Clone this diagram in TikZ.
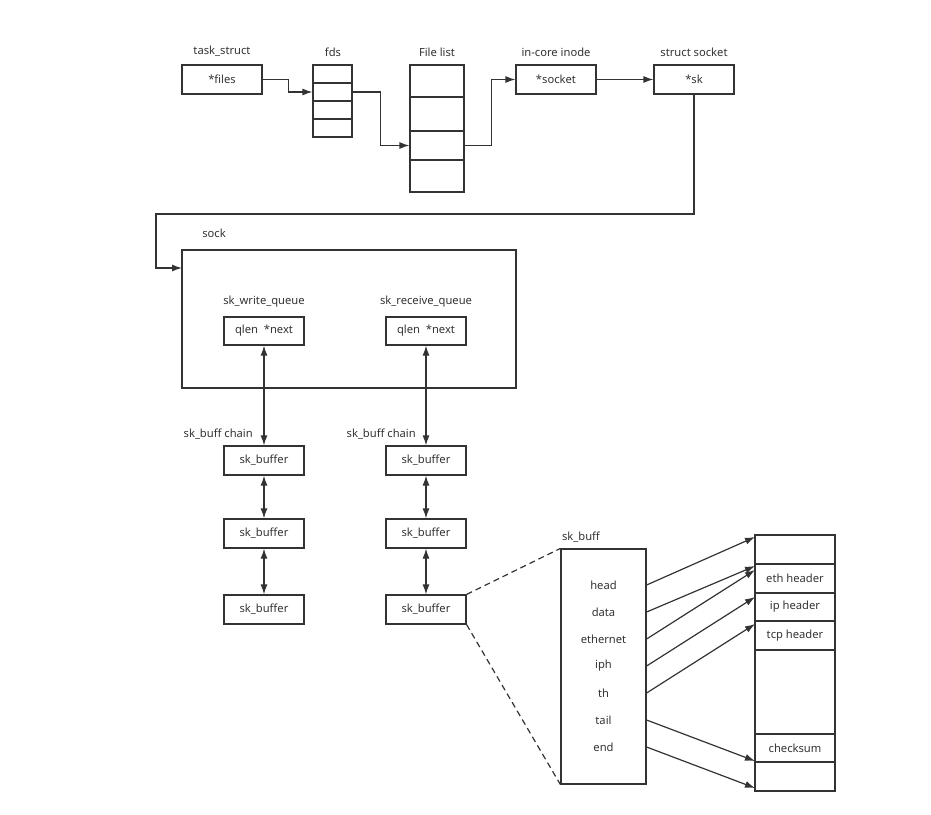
\documentclass[tikz,border=0pt]{standalone}
\usepackage{fontspec}
\setmainfont{Noto Sans}
\usetikzlibrary{arrows.meta}
\definecolor{ink}{HTML}{333333}
\begin{document}
\begin{tikzpicture}[x=1pt,y=-1pt,
  every node/.style={font=\fontsize{11.2}{13}\selectfont, text=ink},
  cell/.style={draw=ink, line width=1.2pt, inner sep=0pt, minimum width=#1},
  cell/.default=80pt,
  lbl/.style={inner sep=0pt},
  arr/.style={draw=ink, line width=1.2pt, -{Latex[length=10pt,width=7pt]}},
  darr/.style={draw=ink, line width=1.2pt, {Latex[length=10pt,width=7pt]}-{Latex[length=10pt,width=7pt]}},
  dsh/.style={draw=ink, line width=1.2pt, dash pattern=on 6pt off 4pt}]
\useasboundingbox (0,0) rectangle (931,814);
% top row
\node[cell, minimum height=29pt] (files) at (222,79.5) {*files};
\node[lbl] (tasklbl) at (222,51) {task\_struct};
\node[cell=39pt, minimum height=18pt] (fds1) at (332.5,74) {};
\node[cell=39pt, minimum height=18pt] (fds2) at (332.5,92) {};
\node[cell=39pt, minimum height=18pt] (fds3) at (332.5,110) {};
\node[cell=39pt, minimum height=18pt] (fds4) at (332.5,128) {};
\node[lbl] (fdslbl) at (333,52) {fds};
\node[cell=54pt, minimum height=32pt] (fl1) at (437,81) {};
\node[cell=54pt, minimum height=34pt] (fl2) at (437,114) {};
\node[cell=54pt, minimum height=29pt] (fl3) at (437,145.5) {};
\node[cell=54pt, minimum height=32pt] (fl4) at (437,176) {};
\node[lbl] (fllbl) at (437,52) {File list};
\node[cell, minimum height=29pt] (inode) at (556,79.5) {*socket};
\node[lbl] (inodelbl) at (556,52) {in-core inode};
\node[cell, minimum height=29pt] (sockt) at (694,79.5) {*sk};
\node[lbl] (socktlbl) at (694,52) {struct socket};
\draw[arr] (files.east) -- ++(26,0) |- (fds2.west);
\draw[arr] (fds2.east) -- ++(28,0) |- (fl3.west);
\draw[arr] (fl3.east) -- ++(27,0) |- (inode.west);
\draw[arr] (inode.east) -- (sockt.west);
% sock
\node[cell=334pt, minimum height=138pt] (sock) at (349,319) {};
\node[lbl] (socklbl) at (214,233) {sock};
\coordinate (sockin) at (182,268);
\coordinate (bend) at (156,214);
\draw[arr] (sockt.south) |- (bend) |- (sockin);
\node[lbl] (wqlbl) at (264,302) {sk\_write\_queue};
\node[cell, minimum height=28pt] (wq) at (264,331) {qlen~~*next};
\node[lbl] (rqlbl) at (426,302) {sk\_receive\_queue};
\node[cell, minimum height=28pt] (rq) at (426,331) {qlen~~*next};
% chains
\node[cell, minimum height=29pt] (lb1) at (264,460.5) {sk\_buffer};
\node[cell, minimum height=29pt] (lb2) at (264,533.5) {sk\_buffer};
\node[cell, minimum height=29pt] (lb3) at (264,609.5) {sk\_buffer};
\node[cell, minimum height=29pt] (rb1) at (426,460.5) {sk\_buffer};
\node[cell, minimum height=29pt] (rb2) at (426,533.5) {sk\_buffer};
\node[cell, minimum height=29pt] (rb3) at (426,609.5) {sk\_buffer};
\node[lbl, anchor=east] (lch) at (253,434) {sk\_buff chain};
\node[lbl, anchor=east] (rch) at (416,434) {sk\_buff chain};
\draw[darr] (wq.south) -- (lb1.north);
\draw[darr] (lb1.south) -- (lb2.north);
\draw[darr] (lb2.south) -- (lb3.north);
\draw[darr] (rq.south) -- (rb1.north);
\draw[darr] (rb1.south) -- (rb2.north);
\draw[darr] (rb2.south) -- (rb3.north);
% sk_buff detail
\node[cell=85pt, minimum height=235pt] (skb) at (603.5,666.5) {};
\node[lbl] (skblbl) at (581,537) {sk\_buff};
\draw[dsh] (rb3.north east) -- (skb.north west);
\draw[dsh] (rb3.south east) -- (skb.south west);
\node[lbl] (fhead) at (603.5,585) {head};
\node[lbl] (fdata) at (603.5,612) {data};
\node[lbl] (feth) at (603.5,639) {ethernet};
\node[lbl] (fiph) at (603.5,666) {iph};
\node[lbl] (fth) at (603.5,693) {th};
\node[lbl] (ftail) at (603.5,720) {tail};
\node[lbl] (fend) at (603.5,747) {end};
% memory
\node[cell, minimum height=29pt] (m1) at (795,549.5) {};
\node[cell, minimum height=29pt] (m2) at (795,578.5) {eth header};
\node[cell, minimum height=28pt] (m3) at (795,607) {ip header};
\node[cell, minimum height=29pt] (m4) at (795,635.5) {tcp header};
\node[cell, minimum height=84pt] (m5) at (795,692) {};
\node[cell, minimum height=28pt] (m6) at (795,748) {checksum};
\node[cell, minimum height=29pt] (m7) at (795,776.5) {};
\coordinate (thead) at (755,537);
\coordinate (tdata) at (755,566);
\coordinate (teth) at (755,570);
\coordinate (tiph) at (755,597);
\coordinate (tth) at (755,624);
\coordinate (ttail) at (755,761);
\coordinate (tend) at (755,788);
\draw[arr] (skb.east |- fhead) -- (thead);
\draw[arr] (skb.east |- fdata) -- (tdata);
\draw[arr] (skb.east |- feth) -- (teth);
\draw[arr] (skb.east |- fiph) -- (tiph);
\draw[arr] (skb.east |- fth) -- (tth);
\draw[arr] (skb.east |- ftail) -- (ttail);
\draw[arr] (skb.east |- fend) -- (tend);
\end{tikzpicture}
\end{document}
